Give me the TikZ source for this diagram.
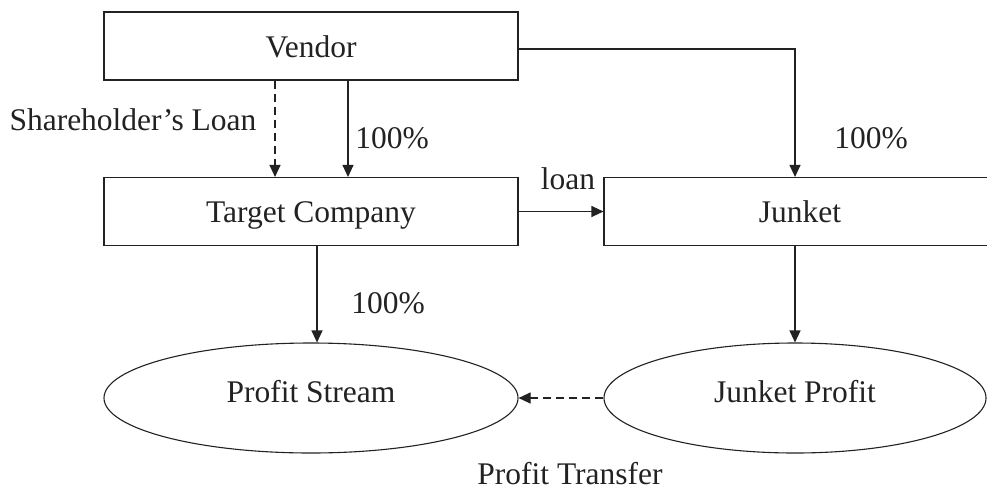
\documentclass[tikz,border=0pt]{standalone}
\usepackage{fontspec}
\setmainfont{Liberation Serif}
\usetikzlibrary{shapes.geometric,arrows.meta}
\definecolor{ink}{HTML}{222222}
\begin{document}
\begin{tikzpicture}[x=1pt,y=-1pt,
  font=\fontsize{31.5}{36}\selectfont,
  box/.style={draw=ink, line width=1.1pt, rectangle, minimum height=68pt, inner sep=0pt, text height=22pt, text depth=0pt, text=ink},
  oval/.style={draw=ink, line width=1.1pt, ellipse, minimum height=110pt, inner sep=0pt, text height=22pt, text depth=14pt, text=ink},
  conn/.style={draw=ink, line width=1.1pt, -{Triangle[length=12pt,width=11pt]}},
  dashconn/.style={conn, dash pattern=on 8pt off 5pt},
  lbl/.style={anchor=base, inner sep=0pt, text=ink}]
\useasboundingbox (0,0) rectangle (987,490);
\clip (0,0) rectangle (987,490);

\node[box, minimum width=414pt] (vendor) at (311,46) {Vendor};
\node[box, minimum width=414pt] (target) at (311,211.5) {Target Company};
\node[box, minimum width=392pt] (junket) at (800,211.5) {Junket};
\node[oval, minimum width=414pt] (ps) at (311,398) {Profit Stream};
\node[oval, minimum width=382pt] (jp) at (795,398) {Junket Profit};

\draw[dashconn] ([xshift=-36pt]vendor.south) -- ([xshift=-36pt]target.north);
\draw[conn] ([xshift=37pt]vendor.south) -- ([xshift=37pt]target.north);
\draw[conn] ([yshift=-3pt]vendor.east) -| ([xshift=-5pt]junket.north);
\draw[conn] (target.east) -- (junket.west);
\draw[conn] ([xshift=6pt]target.south) -- ([xshift=6pt]target.south |- ps.north);
\draw[conn] ([xshift=-5pt]junket.south) -- (jp.north);
\draw[dashconn] (jp.west) -- (ps.east);

\node[lbl] (shl) at (133,130) {Shareholder’s Loan};
\node[lbl] (p1) at (392,148) {100\%};
\node[lbl] (p2) at (871,148) {100\%};
\node[lbl] (loan) at (568,189) {loan};
\node[lbl] (p3) at (388,313) {100\%};
\node[lbl] (pt) at (570,484) {Profit Transfer};
\end{tikzpicture}
\end{document}
